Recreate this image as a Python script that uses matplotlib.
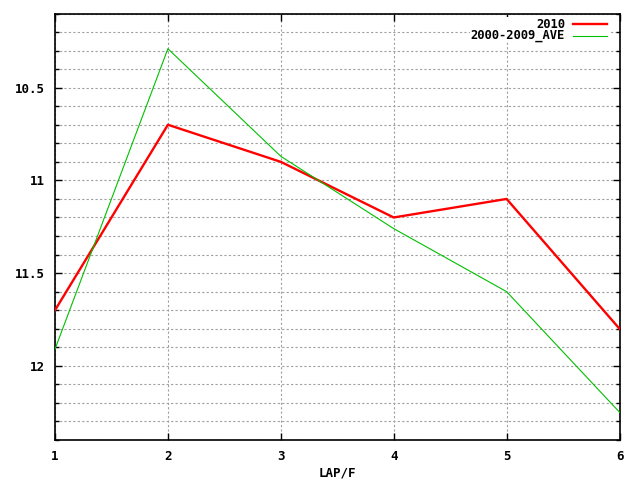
import matplotlib
matplotlib.use("Agg")
import matplotlib.pyplot as plt
from matplotlib.ticker import MultipleLocator, FixedLocator
from matplotlib.lines import Line2D
from matplotlib.patches import Rectangle

laps = [1, 2, 3, 4, 5, 6]
y2010 = [11.70, 10.70, 10.90, 11.20, 11.10, 11.80]
yave = [11.91, 10.29, 10.87, 11.26, 11.60, 12.25]
labels = ["2010", "2000-2009_AVE"]
xlabel = "LAP/F"

plt.rcParams['font.family'] = ['DejaVu Sans Mono']
plt.rcParams['font.weight'] = 'bold'

W, H = 640, 480
fig = plt.figure(figsize=(6.4, 4.8), dpi=100)
ax = fig.add_axes([55/W, 40/H, (619.5-55)/W, (440-13.5)/H])

colors = ['#ff0000', '#00c000']
widths = [1.7, 0.8]
ax.plot(laps, y2010, color=colors[0], lw=widths[0], zorder=3)
ax.plot(laps, yave, color=colors[1], lw=widths[1], zorder=3)

ax.set_xlim(1, 6)
ax.set_ylim(12.4, 10.1)

ax.xaxis.set_major_locator(FixedLocator(laps))
ax.yaxis.set_major_locator(MultipleLocator(0.5))
ax.yaxis.set_minor_locator(MultipleLocator(0.1))
ax.yaxis.set_major_formatter(matplotlib.ticker.FuncFormatter(lambda v, p: ('%g' % round(v, 2))))

gridkw = dict(color='#a0a0a0', lw=0.8, linestyle=(0, (2, 2)))
ax.grid(True, axis='x', which='major', **gridkw)
ax.grid(True, axis='y', which='both', **gridkw)
ax.set_axisbelow(True)

ax.tick_params(axis='both', which='major', direction='in', length=5, width=1,
               top=True, right=True, labelsize=9, pad=7)
ax.tick_params(axis='y', which='minor', direction='in', length=3, width=1,
               left=True, right=True)
for s in ax.spines.values():
    s.set_linewidth(1.2)

ax.set_xlabel(xlabel, fontsize=9, fontweight='bold', labelpad=3)

# gnuplot-style key at top right (opaque background)
fig.add_artist(Rectangle((470/W, 1 - 42/H), (611-470)/W, (42-17)/H,
                         facecolor='white', edgecolor='none', zorder=2))
for i, (lab, c, lw) in enumerate(zip(labels, colors, widths)):
    ypix = 24 + 12 * i
    fig.text(565/W, 1 - ypix/H, lab, ha='right', va='center', fontsize=8.7,
             fontweight='bold', zorder=3)
    fig.add_artist(Line2D([573/W, 607/W], [1 - ypix/H, 1 - ypix/H],
                          color=c, lw=lw, zorder=3))

fig.savefig("out.png", dpi=100)
